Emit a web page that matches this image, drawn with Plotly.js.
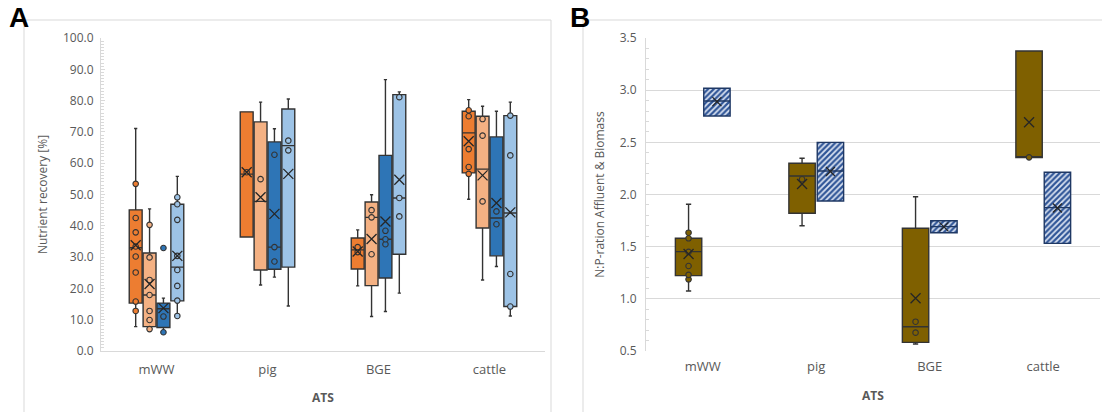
<!DOCTYPE html>
<html>
<head>
<meta charset="utf-8">
<script src="https://cdn.plot.ly/plotly-3.0.1.min.js"></script>
<style>html,body{margin:0;padding:0;background:#fff;}#chart{width:1102px;height:412px;}</style>
</head>
<body>
<div id="chart"></div>
<script>
// ---------- data ----------
var categories = ['mWW', 'pig', 'BGE', 'cattle'];

// Panel A: nutrient recovery [%], four series
var s1Q1 = [15.3, 36.4, 26.2, 56.9];
var s1Median = [33.0, 56.5, 32.3, 69.7];
var s1Q3 = [45.1, 76.4, 36.1, 76.6];
var s1Low = [7.8, 36.4, 20.8, 48.5];
var s1High = [71.1, 76.4, 38.7, 80.3];
var s1Mean = [33.8, 57.1, 31.8, 67.0];
var s1Points = [[53.4, 42.5, 37.9, 33.4, 30.2, 25.1, 15.8, 12.8], [57.1], [33.2, 31.6], [76.9, 75.0, 64.5, 58.8, 56.6]];

var s2Q1 = [7.8, 25.9, 20.9, 39.3];
var s2Median = [17.9, 47.8, 42.7, 58.1];
var s2Q3 = [31.3, 73.2, 47.6, 75.0];
var s2Low = [7.0, 21.1, 11.0, 22.7];
var s2High = [45.4, 79.5, 49.9, 78.2];
var s2Mean = [21.4, 49.1, 35.8, 56.1];
var s2Points = [[40.3, 29.9, 22.7, 17.9, 12.8, 9.9, 7.0], [54.9], [45.0, 42.7, 30.9], [74.1, 68.8, 47.8]];

var s3Q1 = [7.5, 26.1, 23.3, 30.4];
var s3Median = [13.5, 33.2, 35.7, 42.5];
var s3Q3 = [15.3, 66.8, 62.5, 68.4];
var s3Low = [6.2, 23.6, 12.6, 27.0];
var s3High = [16.9, 71.0, 86.7, 76.6];
var s3Mean = [13.7, 43.8, 41.4, 47.3];
var s3Points = [[32.9, 11.0, 6.0], [62.7, 33.2, 28.6], [38.4, 35.7, 34.1], [44.6, 40.5]];

var s4Q1 = [16.0, 26.8, 30.9, 14.2];
var s4Median = [26.8, 65.6, 48.9, 44.1];
var s4Q3 = [46.9, 77.3, 81.9, 75.2];
var s4Low = [11.0, 14.4, 18.5, 11.2];
var s4High = [55.8, 80.5, 82.8, 79.5];
var s4Mean = [30.4, 56.6, 54.7, 44.3];
var s4Points = [[49.1, 46.9, 41.9, 30.4, 25.9, 20.8, 16.1, 11.2], [67.2, 64.1], [81.1, 48.9, 43.0], [75.2, 62.5, 24.6, 14.2]];

// Panel B: N:P ratio, Affluent & Biomass
var affQ1 = [1.222, 1.820, 0.583, 2.353];
var affMedian = [1.452, 2.177, 0.733, 2.360];
var affQ3 = [1.580, 2.299, 1.676, 3.375];
var affLow = [1.075, 1.701, 0.567, 2.353];
var affHigh = [1.906, 2.347, 1.979, 3.375];
var affMean = [1.430, 2.101, 1.005, 2.692];
var affPoints = [[1.634, 1.580, 1.450, 1.315, 1.230, 1.187], [2.146], [0.781, 0.676], [2.356]];

var bioQ1 = [2.752, 1.938, 1.634, 1.532];
var bioMedian = [2.896, 2.225, 1.692, 1.874];
var bioQ3 = [3.018, 2.500, 1.749, 2.213];
var bioMean = [2.890, 2.220, 1.690, 1.870];

// ---------- styles ----------
var W = 1102, H = 412;
var BOXGAP = 0.5, BOXGROUPGAP = 0.07;
var EDGE = '#333333';
var GREY = '#595959';
var LIGHT = '#D9D9D9';
var FONT = 'Open Sans, sans-serif';

function flatten(lists) {
  var xs = [], ys = [];
  lists.forEach(function (vals, i) {
    vals.forEach(function (v) { xs.push(categories[i]); ys.push(v); });
  });
  return {x: xs, y: ys};
}

var traces = [];

function addSeries(opt) {
  traces.push({
    type: 'box', xaxis: opt.xa, yaxis: opt.ya, offsetgroup: opt.group,
    x: categories, q1: opt.q1, median: opt.median, q3: opt.q3,
    lowerfence: opt.low, upperfence: opt.high,
    fillcolor: opt.fill, line: {color: opt.edge || EDGE, width: 1.4},
    whiskerwidth: opt.whisker, boxpoints: false, hoverinfo: 'skip', showlegend: false
  });
  if (opt.points) {
    var p = flatten(opt.points);
    traces.push({
      type: 'box', xaxis: opt.xa, yaxis: opt.ya, offsetgroup: opt.group,
      x: p.x, y: p.y, boxpoints: 'all', jitter: 0, pointpos: 0,
      fillcolor: 'rgba(0,0,0,0)', line: {color: 'rgba(0,0,0,0)', width: 0}, whiskerwidth: 0,
      marker: {symbol: 'circle', size: 5.5, color: opt.fill, line: {color: EDGE, width: 1.1}},
      hoverinfo: 'skip', showlegend: false
    });
  }
  traces.push({
    type: 'box', xaxis: opt.xa, yaxis: opt.ya, offsetgroup: opt.group,
    x: categories, y: opt.mean, boxpoints: 'all', jitter: 0, pointpos: 0,
    fillcolor: 'rgba(0,0,0,0)', line: {color: 'rgba(0,0,0,0)', width: 0}, whiskerwidth: 0,
    marker: {symbol: 'x-thin-open', size: opt.xsize, color: '#262626', line: {color: '#262626', width: 1.3}},
    hoverinfo: 'skip', showlegend: false
  });
}

addSeries({xa: 'x', ya: 'y', group: 's1', q1: s1Q1, median: s1Median, q3: s1Q3, low: s1Low, high: s1High, mean: s1Mean, points: s1Points, fill: '#ED7D31', whisker: 0.25, xsize: 10});
addSeries({xa: 'x', ya: 'y', group: 's2', q1: s2Q1, median: s2Median, q3: s2Q3, low: s2Low, high: s2High, mean: s2Mean, points: s2Points, fill: '#F4B183', whisker: 0.25, xsize: 10});
addSeries({xa: 'x', ya: 'y', group: 's3', q1: s3Q1, median: s3Median, q3: s3Q3, low: s3Low, high: s3High, mean: s3Mean, points: s3Points, fill: '#2E75B6', whisker: 0.25, xsize: 10});
addSeries({xa: 'x', ya: 'y', group: 's4', q1: s4Q1, median: s4Median, q3: s4Q3, low: s4Low, high: s4High, mean: s4Mean, points: s4Points, fill: '#9DC3E6', whisker: 0.25, xsize: 10});

// hatched fill for the biomass boxes (bar layer sits below the box layer);
// own alignment group so it does not take a slot in the box grouping
var slot = (1 - BOXGAP) / 2;
var bioWidth = slot * (1 - BOXGROUPGAP);
traces.push({
  type: 'bar', xaxis: 'x2', yaxis: 'y2', x: categories, alignmentgroup: 'hatch',
  base: bioQ1, y: bioQ3.map(function (v, i) { return v - bioQ1[i]; }),
  width: bioWidth, offset: slot / 2 - bioWidth / 2,
  marker: {color: '#DCE4F2', line: {width: 0},
    pattern: {shape: '/', fgcolor: '#2F5597', bgcolor: '#DCE4F2', size: 4, solidity: 0.55}},
  hoverinfo: 'skip', showlegend: false
});

addSeries({xa: 'x2', ya: 'y2', group: 'aff', q1: affQ1, median: affMedian, q3: affQ3, low: affLow, high: affHigh, mean: affMean, points: affPoints, fill: '#7F6000', whisker: 0.2, xsize: 10});
addSeries({xa: 'x2', ya: 'y2', group: 'bio', q1: bioQ1, median: bioMedian, q3: bioQ3, low: bioQ1, high: bioQ3, mean: bioMean, points: null, fill: 'rgba(0,0,0,0)', edge: '#1F3864', whisker: 0, xsize: 9});

function px(x) { return x / W; }
function py(y) { return 1 - y / H; }

var tickFont = {family: FONT, size: 12, color: GREY};
var catFont = {family: FONT, size: 13, color: GREY};

var layout = {
  width: W, height: H,
  margin: {l: 0, r: 0, t: 0, b: 0},
  paper_bgcolor: '#fff', plot_bgcolor: 'rgba(0,0,0,0)',
  boxmode: 'group', boxgap: BOXGAP, boxgroupgap: BOXGROUPGAP,
  barmode: 'overlay',
  showlegend: false,
  font: {family: FONT, color: GREY},
  xaxis: {
    domain: [px(101), px(545)], anchor: 'y', type: 'category', range: [-0.5, 3.5],
    showline: true, linecolor: LIGHT, linewidth: 1, ticks: '', tickfont: catFont,
    ticklabelstandoff: 6, showgrid: false, zeroline: false, fixedrange: true,
    title: {text: '<b>ATS</b>', font: {family: FONT, size: 12, color: GREY}, standoff: 17}
  },
  yaxis: {
    domain: [1 - 351 / H, 1 - 38 / H], anchor: 'x', range: [0, 100], dtick: 10, tickformat: '.1f',
    showline: true, linecolor: LIGHT, linewidth: 1, showgrid: false, zeroline: false,
    ticks: 'inside', ticklen: 4, tickcolor: LIGHT, tickfont: tickFont, ticklabelstandoff: 4,
    minor: {dtick: 1, ticks: 'inside', ticklen: 3, tickcolor: LIGHT, showgrid: false},
    fixedrange: true,
    title: {text: 'Nutrient recovery [%]', font: {family: FONT, size: 12, color: GREY}, standoff: 12}
  },
  xaxis2: {
    domain: [px(646), px(1100)], anchor: 'y2', type: 'category', range: [-0.5, 3.5],
    showline: false, ticks: '', tickfont: catFont,
    ticklabelstandoff: 6, showgrid: false, zeroline: false, fixedrange: true,
    title: {text: '<b>ATS</b>', font: {family: FONT, size: 12, color: GREY}, standoff: 17}
  },
  yaxis2: {
    domain: [1 - 351 / H, 1 - 38 / H], anchor: 'x2', range: [0.5, 3.5], dtick: 0.5, tickformat: '.1f',
    showline: true, linecolor: LIGHT, linewidth: 1, showgrid: true, gridcolor: LIGHT, gridwidth: 1, zeroline: false,
    ticks: '', tickfont: tickFont, ticklabelstandoff: 6,
    minor: {dtick: 0.1, ticks: 'inside', ticklen: 3, tickcolor: LIGHT, showgrid: false},
    fixedrange: true,
    title: {text: 'N:P-ration Affluent &amp; Biomass', font: {family: FONT, size: 12, color: GREY}, standoff: 12}
  },
  shapes: [
    {type: 'line', xref: 'paper', yref: 'paper', x0: px(24), x1: px(24), y0: py(20), y1: 0, line: {color: LIGHT, width: 1}},
    {type: 'line', xref: 'paper', yref: 'paper', x0: px(24), x1: px(551), y0: py(20), y1: py(20), line: {color: LIGHT, width: 1}},
    {type: 'line', xref: 'paper', yref: 'paper', x0: px(551), x1: px(551), y0: py(20), y1: 0, line: {color: LIGHT, width: 1}},
    {type: 'line', xref: 'paper', yref: 'paper', x0: px(583), x1: px(583), y0: py(20), y1: 0, line: {color: LIGHT, width: 1}},
    {type: 'line', xref: 'paper', yref: 'paper', x0: px(583), x1: 1, y0: py(20), y1: py(20), line: {color: LIGHT, width: 1}}
  ],
  annotations: [
    {text: '<b>A</b>', xref: 'paper', yref: 'paper', x: px(7), y: py(18), xanchor: 'left', yanchor: 'middle', showarrow: false,
      font: {family: 'Liberation Sans, Arial, sans-serif', size: 28, color: '#000'}},
    {text: '<b>B</b>', xref: 'paper', yref: 'paper', x: px(568), y: py(18), xanchor: 'left', yanchor: 'middle', showarrow: false,
      font: {family: 'Liberation Sans, Arial, sans-serif', size: 28, color: '#000'}}
  ]
};

Plotly.newPlot('chart', traces, layout, {displayModeBar: false, staticPlot: true});
</script>
</body>
</html>
